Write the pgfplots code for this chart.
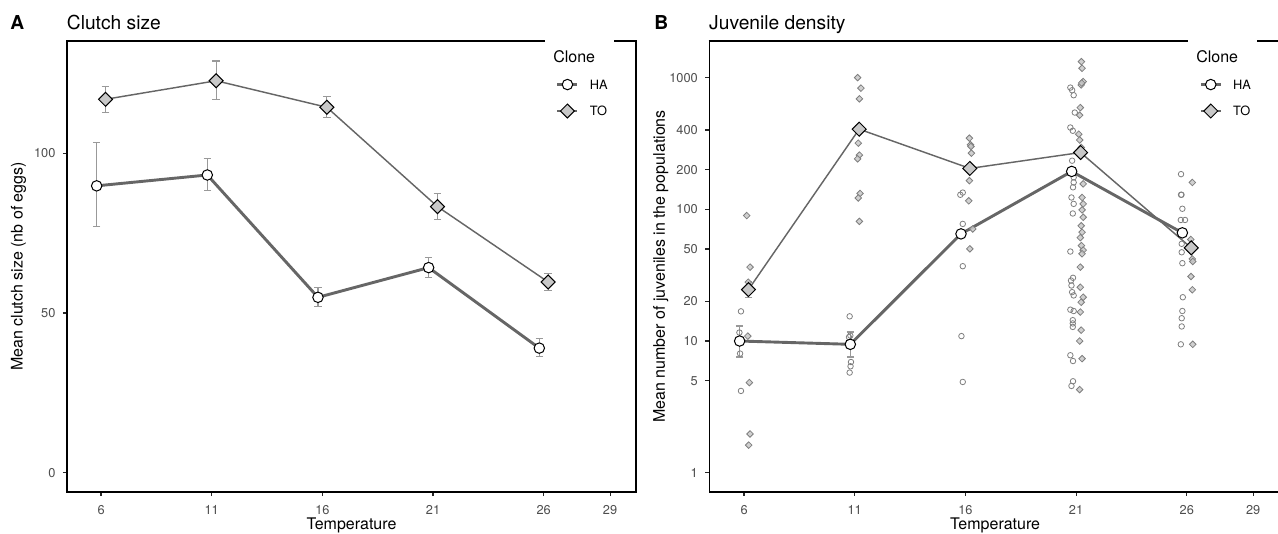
\documentclass[border=0pt]{standalone}
\usepackage{pgfplots}
\pgfplotsset{compat=1.18}
\usepackage{pgfplotstable}
\usepackage{fontspec}
\setmainfont{TeX Gyre Heros}

\definecolor{meanline}{HTML}{666666}
\definecolor{errbar}{HTML}{999999}
\definecolor{tickgray}{HTML}{4D4D4D}
\definecolor{tofill}{HTML}{C8C8C8}
\definecolor{ptedge}{HTML}{7F7F7F}

% Clutch size: clone means with standard-error bounds (ep = up, em = down)
\pgfplotstableread{
x     y     ep    em
5.8   89.8  13.7  12.6
10.8  93.2  5.1   4.9
15.8  54.9  3.1   2.9
20.8  64.2  3.1   3.0
25.8  39.0  2.9   2.7
}\clutchHA
\pgfplotstableread{
x     y     ep    em
6.2   116.9 4.1   4.2
11.2  122.7 6.2   5.9
16.2  114.4 3.3   3.3
21.2  83.3  4.2   4.0
26.2  59.7  2.7   2.7
}\clutchTO

% Juvenile density: clone means
\pgfplotstableread{
x     y     ep    em
5.8   10.0  3.0   2.43
10.8  9.44  2.26  1.87
15.8  65.1  4     4
20.8  194   12    11
25.8  66.3  4     4
}\densHA
\pgfplotstableread{
x     y     ep    em
6.2   24.6  3.9   3.3
11.2  406   25    23
16.2  204.5 12    11
21.2  270   15    14
26.2  51.0  3     3
}\densTO

% Juvenile density: single populations
\pgfplotstableread{
x     y
5.86  16.8
5.79  11.6
5.83  10.4
5.82  8.03
5.86  4.18
10.77 15.4
10.74 10.7
10.80 11.0
10.83 6.93
10.81 6.43
10.77 5.76
15.88 134
15.77 129
15.88 77.5
15.88 37
15.82 10.9
15.88 4.89
20.74 840
20.82 802
20.89 735
20.94 543
20.74 418
20.85 395
20.82 234
20.89 175
20.89 160
20.86 147
20.79 123
20.89 110
20.85 93
20.74 47.8
20.86 30.2
20.77 28.8
20.79 26.4
20.82 23.5
20.89 22.2
20.74 17.3
20.89 16.9
20.85 14.4
20.85 13.6
20.85 12.8
20.74 7.8
20.86 7.05
20.86 4.95
20.79 4.56
25.74 185
25.74 129
25.76 129
25.80 101
25.73 83
25.92 83
25.77 54.7
25.77 47.2
25.80 39
25.82 21.5
25.80 16.9
25.77 14.9
25.77 12.9
25.73 9.44
}\popHA
\pgfplotstableread{
x     y
6.12  89.6
6.27  36.4
6.19  28
6.17  10.9
6.24  4.84
6.27  1.97
6.21  1.62
11.13 1000
11.28 832
11.21 690
11.16 318
11.21 258
11.13 242
11.24 132
11.16 122
11.21 81
16.18 347
16.23 309
16.25 300
16.27 267
16.18 165
16.15 116
16.33 71
16.20 50.1
21.24 1322
21.27 1178
21.32 933
21.23 880
21.25 910
21.19 592
21.16 519
21.12 372
21.16 336
21.23 295
21.32 156
21.27 123
21.32 110
21.27 99
21.32 87
21.23 75
21.27 67
21.19 61
21.24 53
21.32 49
21.27 46
21.19 36.4
21.19 25.6
21.32 21.5
21.23 19.7
21.19 16.6
21.23 12.1
21.16 10
21.27 7.35
21.16 4.28
26.25 160
26.18 59
26.25 42
26.27 40.2
26.19 30.9
26.25 24.5
26.27 9.44
}\popTO

\pgfplotsset{
  panel/.style={
    scale only axis,
    height=310.06pt,
    xtick={6,11,16,21,26,29},
    axis line style={black, line width=0.8pt},
    tick style={black!85, line width=0.8pt},
    tick align=outside,
    major tick length=2.75pt,
    xtick pos=left, ytick pos=left,
    ticklabel style={tickgray, font=\fontsize{8.8}{10}\selectfont},
    xticklabel style={anchor=base, inner sep=0pt, yshift=-12.4pt},
    yticklabel style={anchor=east, inner sep=0pt, xshift=-5pt},
    /pgf/number format/assume math mode=true,
    xlabel={Temperature},
    every axis x label/.style={at={(axis description cs:0.5,-0.0827)}, anchor=base,
      font=\fontsize{11}{13}\selectfont},
    every axis y label/.style={at={(axis description cs:-0.0779,0.5)}, anchor=base,
      rotate=90, font=\fontsize{11}{13}\selectfont},
    legend cell align=left,
    legend style={draw=none, fill=none, inner sep=0pt, outer sep=0pt,
      row sep=8.875pt, column sep=7.5pt, anchor=west,
      font=\fontsize{8.8}{10}\selectfont,
      nodes={inner sep=0pt, text height=7.65pt, text depth=1.35pt}},
    legend image code/.code={
      \draw[mark repeat=2,mark phase=2,#1] plot coordinates {(0pt,0pt) (6.875pt,0pt) (13.75pt,0pt)};},
  },
  errs/.style={forget plot, only marks, mark=none,
    /pgfplots/error bars/y dir=both,
    /pgfplots/error bars/y explicit,
    /pgfplots/error bars/error bar style={errbar, line width=0.8pt},
    /pgfplots/error bars/error mark options={errbar, rotate=90, mark size=2.6pt, line width=0.8pt}},
  meanHA/.style={meanline, line width=2pt, mark=*, mark size=3.6pt,
    mark options={fill=white, draw=black, line width=0.7pt}},
  meanTO/.style={meanline, line width=1pt, mark=square*, mark size=3.4pt,
    mark options={rotate=45, fill=tofill, draw=black, line width=0.7pt}},
}

\begin{document}
\begin{tikzpicture}
\useasboundingbox (0pt,0pt) rectangle (878.625pt,366.4375pt);

% ---- A: clutch size ----
\begin{axis}[panel,
  at={(46.06pt,28.19pt)}, anchor=south west,
  width=391.19pt,
  xmin=4.46, xmax=30.17,
  ymin=-6.05, ymax=135.15,
  ytick={0,50,100},
  ylabel={Mean clutch size (nb of eggs)},
  legend style={at={(axis description cs:0.8594,0.8736)}},
]
\addplot[errs] table[x=x, y=y, y error plus=ep, y error minus=em] {\clutchHA};
\addplot[errs] table[x=x, y=y, y error plus=ep, y error minus=em] {\clutchTO};
\addplot[meanHA] table[x=x, y=y] {\clutchHA};
\addlegendentry{HA}
\addplot[meanTO] table[x=x, y=y] {\clutchTO};
\addlegendentry{TO}
\end{axis}

% ---- B: juvenile density, open on the right: bottom and left spines plus a top rule ----
\begin{axis}[panel,
  at={(487.64pt,28.19pt)}, anchor=south west,
  width=393pt,
  xmin=4.43, xmax=30.253,
  axis x line*=bottom, axis y line*=left,
  axis line style={-},
  ymode=log, ymin=0.714, ymax=1897,
  ytick={1,5,10,20,50,100,200,400,1000},
  yticklabels={1,5,10,20,50,100,200,400,1000},
  yminorticks=false,
  ylabel={Mean number of juveniles in the populations},
  legend style={at={(axis description cs:0.8572,0.8736)}},
]
\addplot[forget plot, only marks, mark=o, mark size=1.9pt,
  mark options={draw=ptedge, line width=0.55pt}] table[x=x, y=y] {\popHA};
\addplot[forget plot, only marks, mark=square*, mark size=1.6pt,
  mark options={rotate=45, draw=ptedge, fill=tofill, fill opacity=0.85, line width=0.55pt}]
  table[x=x, y=y] {\popTO};
\addplot[errs] table[x=x, y=y, y error plus=ep, y error minus=em] {\densHA};
\addplot[errs] table[x=x, y=y, y error plus=ep, y error minus=em] {\densTO};
\addplot[meanHA] table[x=x, y=y] {\densHA};
\addlegendentry{HA}
\addplot[meanTO] table[x=x, y=y] {\densTO};
\addlegendentry{TO}
\end{axis}
\draw[black, line width=0.8pt] (487.24pt,338.25pt) -- (880pt,338.25pt);

% legend titles with their break in the panel frame
\fill[white] (374.7pt,334pt) rectangle (422.1pt,342pt);
\fill[white] (816.5pt,334pt) rectangle (864pt,342pt);
\node[anchor=base west, inner sep=0pt, font=\fontsize{11}{13}\selectfont] at (380.2pt,323.6pt) {Clone};
\node[anchor=base west, inner sep=0pt, font=\fontsize{11}{13}\selectfont] at (822.25pt,323.6pt) {Clone};

% panel tags and titles
\node[anchor=base west, inner sep=0pt, font=\fontsize{13.2}{15}\selectfont\bfseries] at (6.9pt,346.3pt) {A};
\node[anchor=base west, inner sep=0pt, font=\fontsize{13.2}{15}\selectfont] at (45.8pt,346.3pt) {Clutch size};
\node[anchor=base west, inner sep=0pt, font=\fontsize{13.2}{15}\selectfont\bfseries] at (449.6pt,346.3pt) {B};
\node[anchor=base west, inner sep=0pt, font=\fontsize{13.2}{15}\selectfont] at (487.4pt,346.3pt) {Juvenile density};
\end{tikzpicture}
\end{document}
